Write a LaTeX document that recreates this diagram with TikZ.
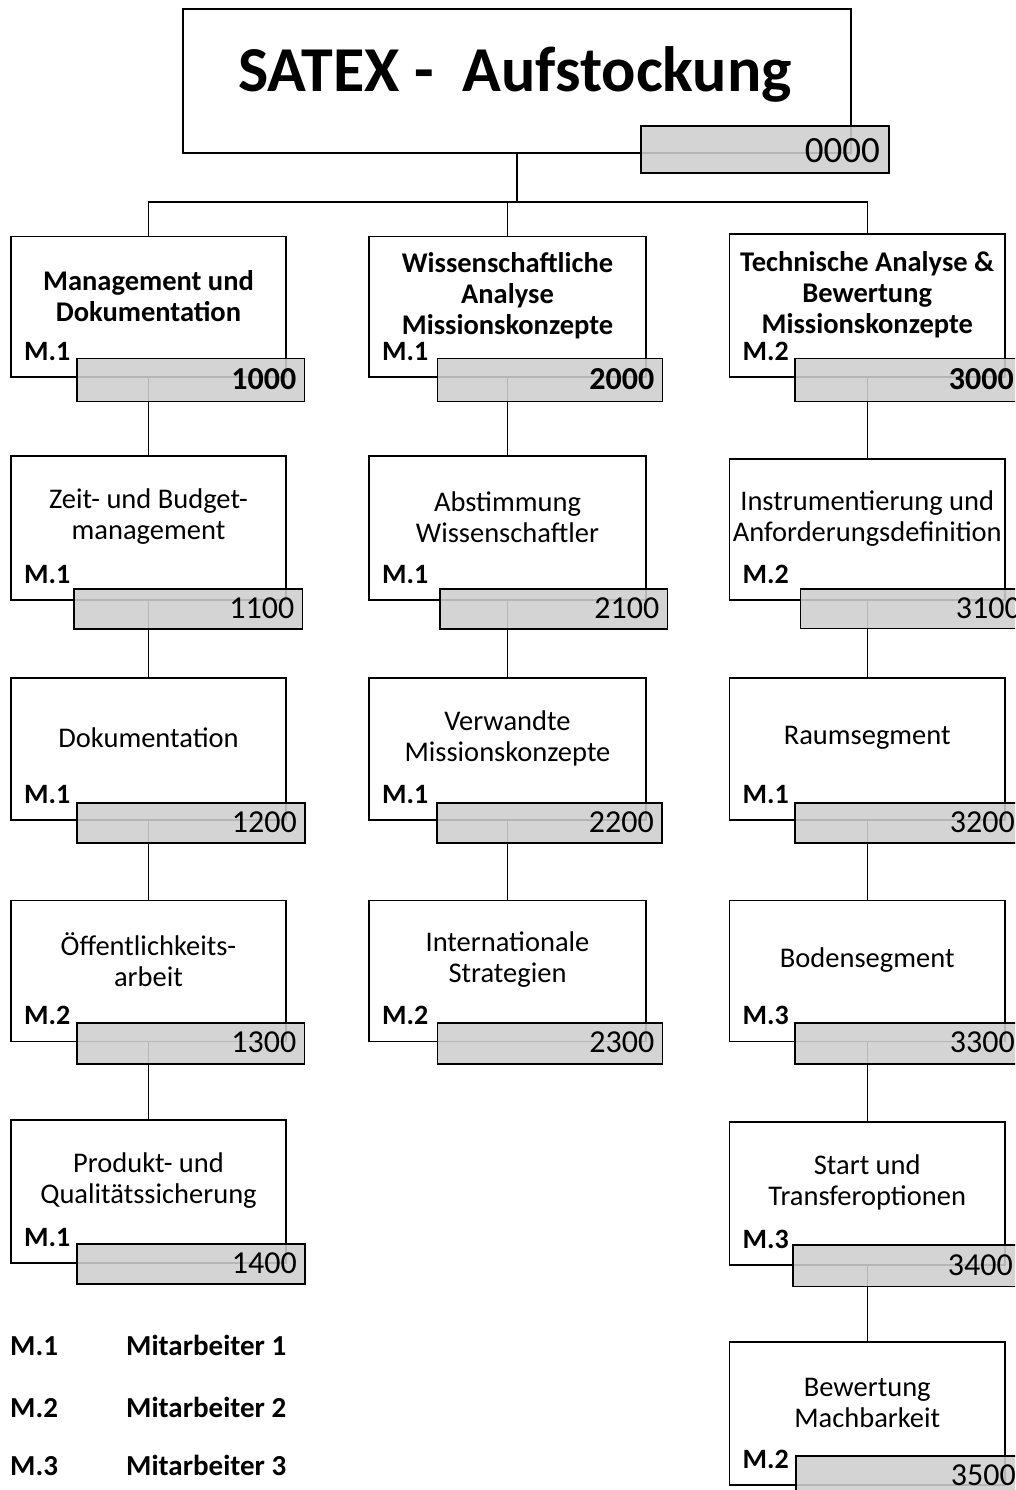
\documentclass[tikz,border=0pt]{standalone}
\usepackage{fontspec}
\setmainfont{Carlito}
\usetikzlibrary{fit,calc}
\tikzset{
  wbox/.style={draw=black, line width=1.5pt, fill=white, inner sep=0pt, outer sep=0pt},
  nbox/.style={draw=black, line width=1.5pt, fill=black!19, fill opacity=0.88, inner sep=0pt, outer sep=0pt},
  conn/.style={draw=black, line width=1.5pt},
  lonetext/.style={font={\fontsize{28.5}{31}\selectfont\bfseries}, align=center, inner sep=0pt},
  ltwotext/.style={font={\fontsize{28.5}{31}\selectfont}, align=center, inner sep=0pt},
  mtext/.style={font={\fontsize{28}{30}\selectfont\bfseries}, inner sep=0pt},
  nonenum/.style={font={\fontsize{32}{36}\selectfont\bfseries}, inner sep=0pt},
  ntwonum/.style={font={\fontsize{32}{36}\selectfont}, inner sep=0pt},
  titletext/.style={font={\fontsize{64}{76}\selectfont\bfseries}, inner sep=0pt},
  legtext/.style={font={\fontsize{29}{32}\selectfont\bfseries}, inner sep=0pt, anchor=base west},
}
% #1 name, #2 x1, #3 y1, #4 x2, #5 y2, #6 text style, #7 text, #8 M label
\newcommand\wbsbox[8]{%
  \node[wbox, fit={(#2,#3) (#4,#5)}] (#1) {};
  \node[#6] (#1t) at ($(#1.center)+(0,-11)$) {#7};
  \node[mtext, anchor=base west] (#1m) at ($(#1.south west)+(13,-17)$) {#8};
}
% #1 name, #2 x1, #3 y1, #4 x2, #5 y2, #6 number style, #7 number
\newcommand\wbsnum[7]{%
  \node[nbox, fit={(#2,#3) (#4,#5)}] (#1) {};
  \node[#6, anchor=east] (#1t) at ($(#1.east)+(-8,-1)$) {#7};
}
\begin{document}
\begin{tikzpicture}[x=1pt, y=-1pt]
\useasboundingbox (0,0) rectangle (1015,1490);
\clip (0,0) rectangle (1015,1490);
\fill[white] (0,0) rectangle (1015,1490);

% top box
\node[wbox, fit={(183,9) (851,153)}] (top) {};
\node[titletext, anchor=base] (toptitle) at (515,92) {SATEX -\ \ Aufstockung};

% column 1
\wbsbox{b1000}{11}{236.5}{286}{377}{lonetext}{Management und\\Dokumentation}{M.1}
\wbsbox{b1100}{11}{456}{286}{600}{ltwotext}{Zeit- und Budget-\\management}{M.1}
\wbsbox{b1200}{11}{678}{286}{820}{ltwotext}{Dokumentation}{M.1}
\wbsbox{b1300}{11}{900.5}{286}{1041.5}{ltwotext}{Öffentlichkeits-\\arbeit}{M.2}
\wbsbox{b1400}{11}{1120}{286}{1263}{ltwotext}{Produkt- und\\Qualitätssicherung}{M.1}

% column 2
\wbsbox{b2000}{369}{236.5}{646}{377}{lonetext}{Wissenschaftliche\\Analyse\\Missionskonzepte}{M.1}
\wbsbox{b2100}{369}{456}{646}{600}{ltwotext}{Abstimmung\\Wissenschaftler}{M.1}
\wbsbox{b2200}{369}{678}{646}{820}{ltwotext}{Verwandte\\Missionskonzepte}{M.1}
\wbsbox{b2300}{369}{900.5}{646}{1041.5}{ltwotext}{Internationale\\Strategien}{M.2}

% column 3
\wbsbox{b3000}{729.5}{234}{1005}{377}{lonetext}{Technische Analyse \&\\Bewertung\\Missionskonzepte}{M.2}
\wbsbox{b3100}{729.5}{459}{1005}{600}{ltwotext}{Instrumentierung und\\Anforderungsdefinition}{M.2}
\wbsbox{b3200}{729.5}{678}{1005}{820}{ltwotext}{Raumsegment}{M.1}
\wbsbox{b3300}{729.5}{900.5}{1005}{1041.5}{ltwotext}{Bodensegment}{M.3}
\wbsbox{b3400}{729.5}{1122}{1005}{1265}{ltwotext}{Start und\\Transferoptionen}{M.3}
\wbsbox{b3500}{729.5}{1342}{1005}{1485}{ltwotext}{Bewertung\\Machbarkeit}{M.2}

% connectors
\coordinate (bar) at (top.south |- 0,202);
\draw[conn] (top.south) -- (bar);
\draw[conn] (bar) -| (b1000.north);
\draw[conn] (bar) -| (b3000.north);
\draw[conn] (b2000.north) |- (bar);
\draw[conn] (b1000.south) -- (b1100.north);
\draw[conn] (b1100.south) -- (b1200.north);
\draw[conn] (b1200.south) -- (b1300.north);
\draw[conn] (b1300.south) -- (b1400.north);
\draw[conn] (b2000.south) -- (b2100.north);
\draw[conn] (b2100.south) -- (b2200.north);
\draw[conn] (b2200.south) -- (b2300.north);
\draw[conn] (b3000.south) -- (b3100.north);
\draw[conn] (b3100.south) -- (b3200.north);
\draw[conn] (b3200.south) -- (b3300.north);
\draw[conn] (b3300.south) -- (b3400.north);
\draw[conn] (b3400.south) -- (b3500.north);

% number boxes
\node[nbox, fit={(641,126) (889,173)}] (n0000) {};
\node[ntwonum, anchor=base east, font={\fontsize{37}{42}\selectfont}] (n0000t) at ($(n0000.east)+(-9,13)$) {0000};

\wbsnum{n1000}{77}{358.5}{304.5}{401.5}{nonenum}{1000}
\wbsnum{n1100}{74}{589}{302.5}{629}{ntwonum}{1100}
\wbsnum{n1200}{77}{803}{305}{843}{ntwonum}{1200}
\wbsnum{n1300}{77}{1023}{304.5}{1064}{ntwonum}{1300}
\wbsnum{n1400}{77}{1244}{305}{1284}{ntwonum}{1400}

\wbsnum{n2000}{437.5}{358.5}{662.5}{401.5}{nonenum}{2000}
\wbsnum{n2100}{440}{589}{667.5}{629}{ntwonum}{2100}
\wbsnum{n2200}{437}{803}{662}{843}{ntwonum}{2200}
\wbsnum{n2300}{437.5}{1023}{662.5}{1064}{ntwonum}{2300}

\wbsnum{n3000}{795}{358.5}{1022}{401.5}{nonenum}{3000}
\wbsnum{n3100}{800.5}{589}{1029}{628.5}{ntwonum}{3100}
\wbsnum{n3200}{795}{803}{1023}{843}{ntwonum}{3200}
\wbsnum{n3300}{795}{1023}{1023}{1064}{ntwonum}{3300}
\wbsnum{n3400}{793}{1245}{1021}{1286.5}{ntwonum}{3400}
\wbsnum{n3500}{796}{1456}{1024}{1497}{ntwonum}{3500}

% legend
\node[legtext] (lm1) at (10,1355) {M.1};
\node[legtext] (lt1) at (126,1355) {Mitarbeiter 1};
\node[legtext] (lm2) at (10,1417) {M.2};
\node[legtext] (lt2) at (126,1417) {Mitarbeiter 2};
\node[legtext] (lm3) at (10,1475) {M.3};
\node[legtext] (lt3) at (126,1475) {Mitarbeiter 3};
\end{tikzpicture}
\end{document}
